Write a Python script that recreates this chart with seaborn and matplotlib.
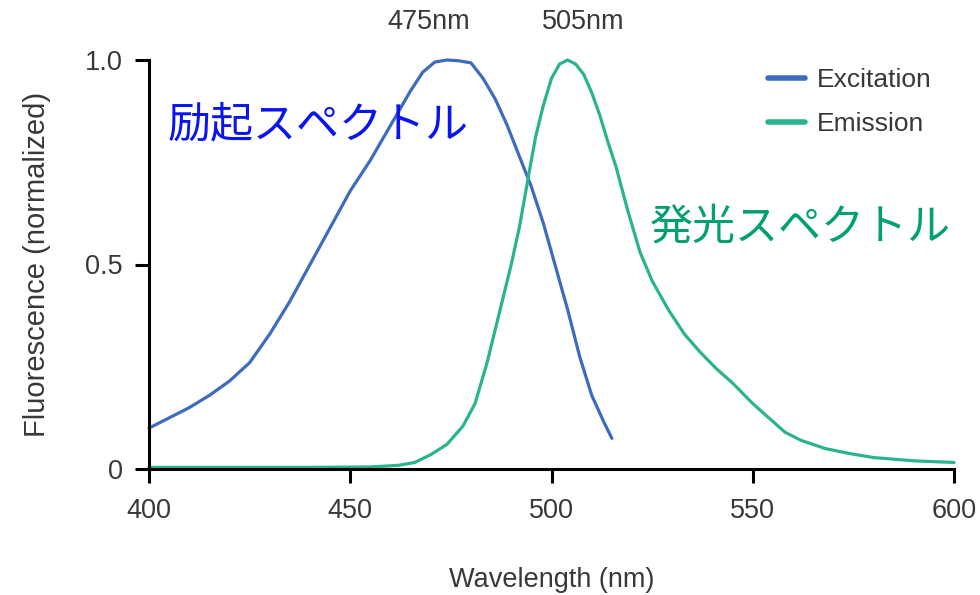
import pandas as pd
import seaborn as sns
import matplotlib.pyplot as plt

# Excitation spectrum
exc_wl = [400, 405, 410, 415, 420, 425, 430, 435, 440, 445, 450, 455, 460, 465,
          468, 471, 474, 477, 480, 483, 486, 489, 492, 495, 498, 501, 504, 507,
          510, 513, 515]
exc_val = [0.10, 0.125, 0.15, 0.18, 0.215, 0.26, 0.33, 0.41, 0.50, 0.59, 0.68,
           0.755, 0.84, 0.925, 0.97, 0.995, 1.0, 0.998, 0.993, 0.955, 0.905,
           0.84, 0.765, 0.69, 0.60, 0.495, 0.39, 0.275, 0.18, 0.115, 0.075]

# Emission spectrum
em_wl = [400, 420, 440, 455, 462, 466, 470, 474, 478, 481, 484, 486, 488, 490,
         492, 494, 496, 498, 500, 502, 504, 506, 508, 510, 512, 514, 516, 519,
         522, 525, 529, 533, 537, 541, 545, 550, 554, 558, 562, 568, 574, 580,
         590, 600]
em_val = [0.004, 0.004, 0.004, 0.005, 0.009, 0.016, 0.035, 0.06, 0.105, 0.16,
          0.26, 0.34, 0.42, 0.50, 0.59, 0.70, 0.81, 0.89, 0.955, 0.99, 1.0, 0.99,
          0.965, 0.92, 0.865, 0.80, 0.74, 0.63, 0.53, 0.46, 0.39, 0.33, 0.285,
          0.245, 0.21, 0.16, 0.125, 0.09, 0.07, 0.05, 0.038, 0.028, 0.02, 0.016]

series_names = ["Excitation", "Emission"]
peak_labels = ["475nm", "505nm"]
spectrum_labels = ["励起スペクトル", "発光スペクトル"]

colors = {"Excitation": "#3d6bbd", "Emission": "#2bb38f"}
text_colors = ["#0a14f0", "#00a070"]
grey = "#383838"

df = pd.concat([
    pd.DataFrame({"wl": exc_wl, "val": exc_val, "series": "Excitation"}),
    pd.DataFrame({"wl": em_wl, "val": em_val, "series": "Emission"}),
])

sns.set_theme(style="ticks")
plt.rcParams["font.family"] = ["Liberation Sans", "DejaVu Sans"]

fig = plt.figure(figsize=(9.8, 5.95), dpi=100)
ax = fig.add_axes([149 / 980, 1 - 469 / 595, 805 / 980, 409 / 595])

sns.lineplot(data=df, x="wl", y="val", hue="series", palette=colors,
             linewidth=2.3, ax=ax, sort=False)
for ln in ax.lines:
    ln.set_clip_on(False)
    ln.set_solid_joinstyle("round")

ax.set_xlim(400, 600)
ax.set_ylim(0, 1.0)
ax.set_xticks([400, 450, 500, 550, 600])
ax.set_yticks([0, 0.5, 1.0])
ax.set_yticklabels(["0", "0.5", "1.0"])

sns.despine(ax=ax)
for side in ["left", "bottom"]:
    ax.spines[side].set_linewidth(2.2)
    ax.spines[side].set_color("black")
ax.tick_params(axis="both", length=10, width=2.2, color="black",
               labelsize=19.5, labelcolor=grey)
ax.tick_params(axis="x", pad=11)
ax.tick_params(axis="y", pad=9)

ax.set_xlabel("Wavelength (nm)", fontsize=19.5, color=grey, labelpad=31)
ax.set_ylabel("Fluorescence (normalized)", fontsize=21, color=grey, labelpad=24)

# peak annotations above the plot
for x, lab in zip([469.5, 508], peak_labels):
    ax.text(x, 1.093, lab, ha="center", va="center", fontsize=19.5,
            color=grey, clip_on=False)

# Japanese spectrum labels
jp_font = ["Noto Sans CJK JP", "DejaVu Sans"]
ax.text(404.7, 0.84, spectrum_labels[0], ha="left", va="center", fontsize=31,
        color=text_colors[0], family=jp_font)
ax.text(524.5, 0.59, spectrum_labels[1], ha="left", va="center", fontsize=31,
        color=text_colors[1], family=jp_font)

leg = ax.legend(loc="upper left", bbox_to_anchor=(0.769, 0.98), frameon=False,
                fontsize=19, handlelength=1.4, handletextpad=0.45,
                labelspacing=0.75, borderpad=0, borderaxespad=0)
for h in leg.get_lines():
    h.set_linewidth(4)
for t in leg.get_texts():
    t.set_color(grey)

plt.savefig("out.png", dpi=100)
